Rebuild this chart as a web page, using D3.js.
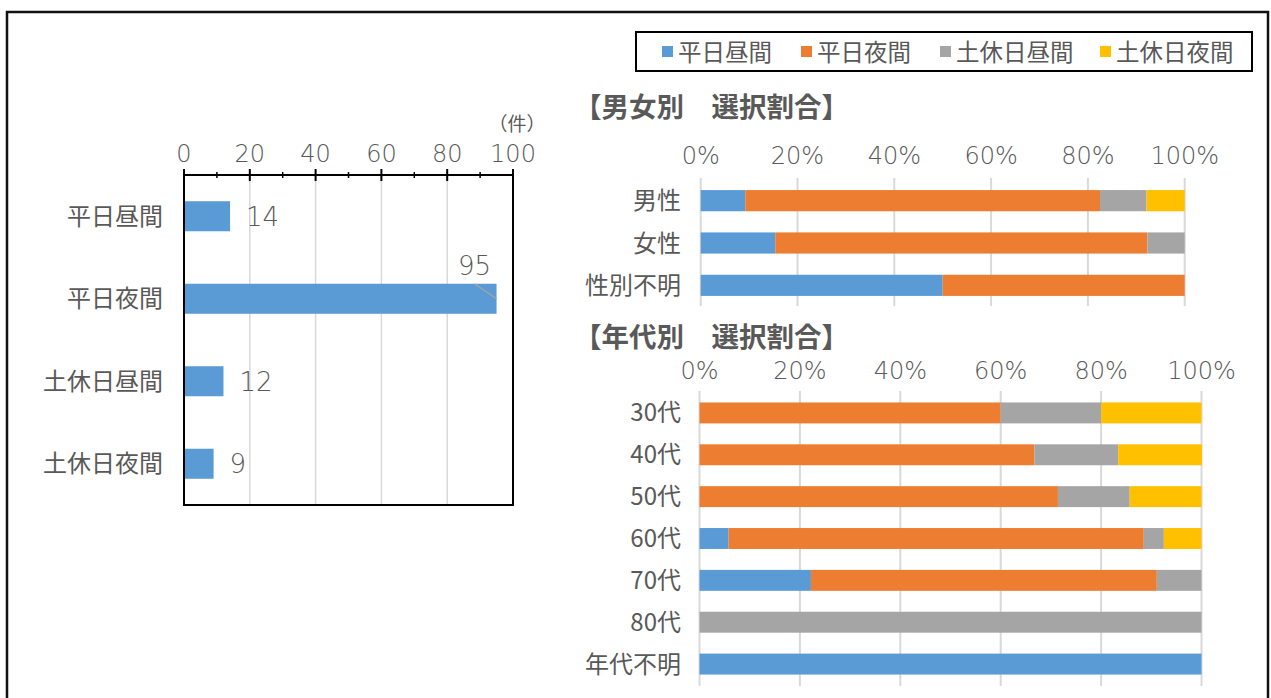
<!DOCTYPE html>
<html lang="ja">
<head>
<meta charset="UTF-8">
<title>選択割合</title>
<script src="https://cdn.jsdelivr.net/npm/d3@7"></script>
<style>
    body { margin: 0; background: #fff; }
    svg text { font-family: "Noto Sans CJK JP", "Noto Sans", sans-serif; fill: #595959; }
    .num { font-family: "DejaVu Sans", "Noto Sans", sans-serif; font-weight: 200; }
</style>
</head>
<body>
<svg id="chart" width="1271" height="698"></svg>
<script>
// data
const modes = ['平日昼間', '平日夜間', '土休日昼間', '土休日夜間'];
const modeColors = ['#5b9bd5', '#ed7d31', '#a5a5a5', '#ffc000'];
const counts = [14, 95, 12, 9];
const countTicks = [0, 20, 40, 60, 80, 100];
const countMinor = [10, 30, 50, 70, 90];

const genderCats = ['男性', '女性', '性別不明'];
const genderWeekdayDay = [9.2, 15.4, 50];
const genderWeekdayNight = [73.3, 76.9, 50];
const genderHolidayDay = [9.6, 7.7, 0];
const genderHolidayNight = [7.9, 0, 0];

const ageCats = ['30代', '40代', '50代', '60代', '70代', '80代', '年代不明'];
const ageWeekdayDay = [0, 0, 0, 5.8, 22.2, 0, 100];
const ageWeekdayNight = [60, 66.7, 71.4, 82.7, 68.9, 0, 0];
const ageHolidayDay = [20, 16.7, 14.3, 4.0, 8.9, 100, 0];
const ageHolidayNight = [20, 16.7, 14.3, 7.5, 0, 0, 0];

const pctTicks = [0, 20, 40, 60, 80, 100];

const svg = d3.select('#chart');

// outer frame (bottom edge is cut off)
svg.append('path')
    .attr('d', 'M7 698V12H1268V698')
    .attr('fill', 'none')
    .attr('stroke', '#111')
    .attr('stroke-width', 2.5);

// ---------- left: counts ----------
const xL = d3.scaleLinear([0, 100], [184, 513]);
const yL = d3.scaleBand(modes, [175, 505]).paddingInner(0.636).paddingOuter(0.318);

const gL = svg.append('g');
gL.selectAll('.gridL').data(countTicks.slice(1, -1)).enter()
    .append('line')
    .attr('x1', d => xL(d)).attr('x2', d => xL(d))
    .attr('y1', 175).attr('y2', 505)
    .attr('stroke', '#d9d9d9').attr('stroke-width', 1.5);

gL.selectAll('.barL').data(counts).enter()
    .append('rect')
    .attr('x', xL(0))
    .attr('y', (d, i) => yL(modes[i]))
    .attr('width', d => xL(d) - xL(0))
    .attr('height', yL.bandwidth())
    .attr('fill', modeColors[0]);

// box
gL.append('path')
    .attr('d', `M${xL(0)} 175V505H${xL(100)}V175Z`)
    .attr('fill', 'none').attr('stroke', '#000').attr('stroke-width', 2);

// ticks
gL.selectAll('.tMaj').data(countTicks).enter()
    .append('line')
    .attr('x1', d => xL(d)).attr('x2', d => xL(d))
    .attr('y1', 169).attr('y2', 181)
    .attr('stroke', '#000').attr('stroke-width', 2);
gL.selectAll('.tMin').data(countMinor).enter()
    .append('line')
    .attr('x1', d => xL(d)).attr('x2', d => xL(d))
    .attr('y1', 172).attr('y2', 178)
    .attr('stroke', '#000').attr('stroke-width', 1.5);
gL.selectAll('.tLab').data(countTicks).enter()
    .append('text').attr('class', 'num')
    .attr('x', d => xL(d)).attr('y', 162)
    .attr('text-anchor', 'middle')
    .attr('font-size', 24)
    .text(d => d);
gL.append('text')
    .attr('x', 517).attr('y', 131)
    .attr('text-anchor', 'middle')
    .attr('font-size', 19)
    .text('（件）');

gL.selectAll('.catL').data(modes).enter()
    .append('text')
    .attr('x', 163).attr('y', d => yL(d) + yL.bandwidth() / 2 + 8.5)
    .attr('text-anchor', 'end')
    .attr('font-size', 24)
    .text(d => d);

// value labels; the biggest one sits above its bar with a leader line
counts.forEach((v, i) => {
    const yc = yL(modes[i]) + yL.bandwidth() / 2;
    if (v > 80) {
        gL.append('text').attr('class', 'num')
            .attr('x', xL(v) - 22).attr('y', yc - 24)
            .attr('text-anchor', 'middle')
            .attr('font-size', 26)
            .text(v);
        gL.append('line')
            .attr('x1', xL(v) - 22).attr('y1', yc - 15)
            .attr('x2', xL(v)).attr('y2', yc)
            .attr('stroke', '#a5a5a5').attr('stroke-width', 1.2);
    } else {
        gL.append('text').attr('class', 'num')
            .attr('x', xL(v) + 16).attr('y', yc + 9.5)
            .attr('font-size', 26)
            .text(v);
    }
});

// ---------- legend ----------
const lg = svg.append('g');
lg.append('rect')
    .attr('x', 636).attr('y', 32).attr('width', 616).attr('height', 39)
    .attr('fill', '#fff').attr('stroke', '#000').attr('stroke-width', 2);
const legendX = [662, 801, 940, 1100];
modes.forEach((m, i) => {
    lg.append('rect')
        .attr('x', legendX[i]).attr('y', 46).attr('width', 11).attr('height', 11)
        .attr('fill', modeColors[i]);
    lg.append('text')
        .attr('x', legendX[i] + 16).attr('y', 60.5)
        .attr('font-size', 23.5)
        .text(m);
});

// ---------- stacked percentage charts ----------
function drawStacked(cats, series, x, y, title, titleY, axisY, gridTop, gridBottom) {
    const g = svg.append('g');
    g.append('text')
        .attr('x', 574).attr('y', titleY)
        .attr('font-size', 27.5).attr('font-weight', 700)
        .attr('fill', '#404040')
        .text(title);

    g.selectAll('.grid').data(pctTicks).enter()
        .append('line')
        .attr('x1', d => x(d)).attr('x2', d => x(d))
        .attr('y1', gridTop).attr('y2', gridBottom)
        .attr('stroke', '#d9d9d9').attr('stroke-width', 2);

    g.selectAll('.tick').data(pctTicks).enter()
        .append('text').attr('class', 'num')
        .attr('x', d => x(d)).attr('y', axisY)
        .attr('text-anchor', 'middle')
        .attr('font-size', 24)
        .text(d => d + '%');

    const rows = cats.map((c, i) => {
        const r = { cat: c };
        modes.forEach((m, k) => { r[m] = series[k][i]; });
        return r;
    });
    const stacked = d3.stack().keys(modes)(rows);
    stacked.forEach((layer, k) => {
        g.selectAll('.seg' + k).data(layer).enter()
            .append('rect')
            .attr('x', d => x(d[0]))
            .attr('y', d => y(d.data.cat))
            .attr('width', d => x(d[1]) - x(d[0]))
            .attr('height', y.bandwidth())
            .attr('fill', modeColors[k]);
    });

    g.selectAll('.cat').data(cats).enter()
        .append('text')
        .attr('x', 681).attr('y', d => y(d) + y.bandwidth() / 2 + 8.5)
        .attr('text-anchor', 'end')
        .attr('font-size', 24)
        .text(d => d);
}

const xG = d3.scaleLinear([0, 100], [700.7, 1184.7]);
const yG = d3.scaleBand(genderCats, [179.5, 306.5]).paddingInner(0.5).paddingOuter(0.25);
drawStacked(genderCats,
    [genderWeekdayDay, genderWeekdayNight, genderHolidayDay, genderHolidayNight],
    xG, yG, '【男女別　選択割合】', 117, 164, 178, 306);

const xA = d3.scaleLinear([0, 100], [699.5, 1201.5]);
const yA = d3.scaleBand(ageCats, [392, 685]).paddingInner(0.5).paddingOuter(0.25);
drawStacked(ageCats,
    [ageWeekdayDay, ageWeekdayNight, ageHolidayDay, ageHolidayNight],
    xA, yA, '【年代別　選択割合】', 347, 379, 391, 686);
</script>
</body>
</html>
